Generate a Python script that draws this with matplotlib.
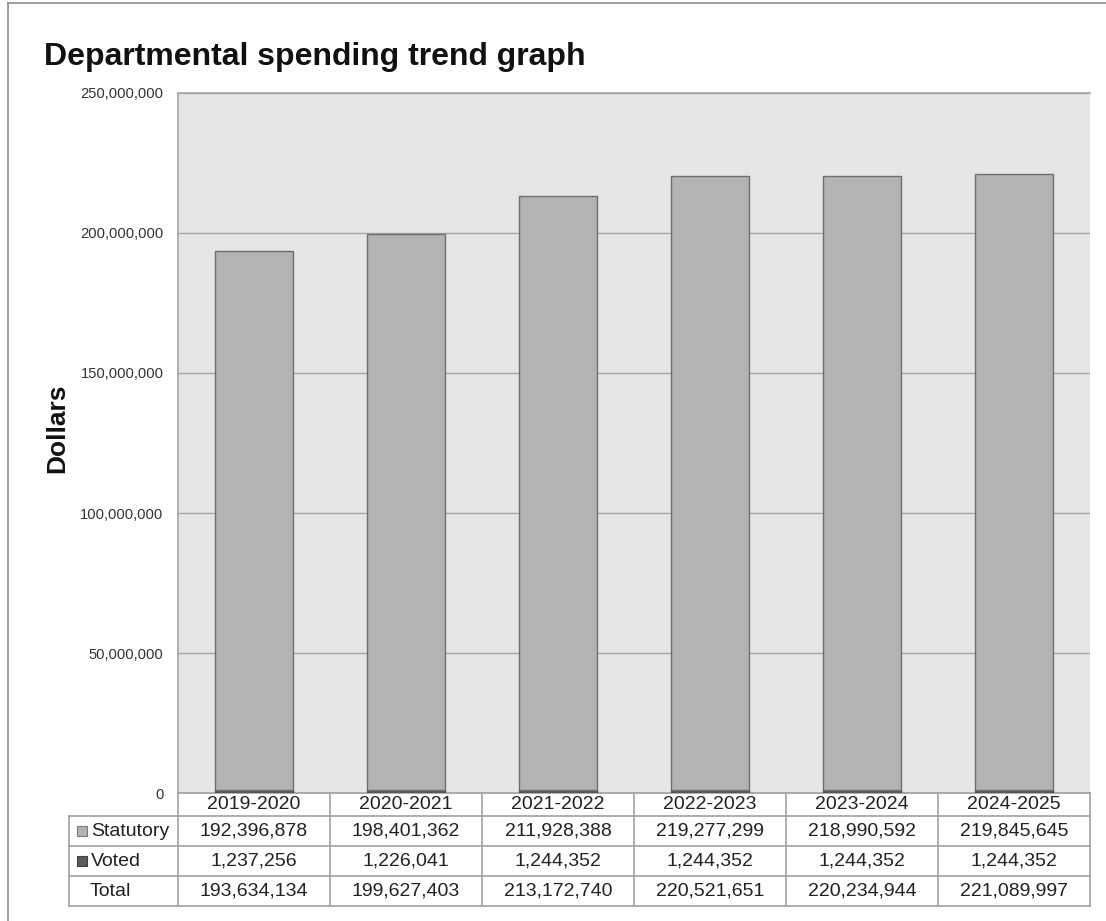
import matplotlib
matplotlib.use('Agg')
import matplotlib.pyplot as plt
import numpy as np
from matplotlib.patches import Rectangle
from matplotlib.lines import Line2D

plt.rcParams['font.family'] = ['Liberation Sans', 'DejaVu Sans']

# 数据
years = ['2019-2020', '2020-2021', '2021-2022', '2022-2023', '2023-2024', '2024-2025']
statutory = [192396878, 198401362, 211928388, 219277299, 218990592, 219845645]
voted = [1237256, 1226041, 1244352, 1244352, 1244352, 1244352]
total = [193634134, 199627403, 213172740, 220521651, 220234944, 221089997]
y_ticks = [0, 50000000, 100000000, 150000000, 200000000, 250000000]

W, H = 1106, 921
fig = plt.figure(figsize=(W / 100, H / 100), dpi=100)

# 外框
fig.add_artist(Line2D([8 / W, 1], [1 - 3 / H, 1 - 3 / H], color='#8c8c8c', lw=1.2))
fig.add_artist(Line2D([8 / W, 8 / W], [0, 1 - 3 / H], color='#8c8c8c', lw=1.2))

# 绘图区 (像素: 左178 上93 右1090 下793)
ax = fig.add_axes([178 / W, 1 - 793 / H, (1090 - 178) / W, (793 - 93) / H])
ax.set_facecolor('#e6e6e6')

x = np.arange(len(years))
bw = 0.51
ax.bar(x, voted, bw, color='#5a5a5a', edgecolor='#505050', lw=1.0, zorder=3)
ax.bar(x, statutory, bw, bottom=voted, color='#b3b3b3', edgecolor='#6e6e6e', lw=1.0, zorder=3)

ax.set_xlim(-0.5, len(years) - 0.5)
ax.set_ylim(0, 250000000)
ax.set_yticks(y_ticks)
ax.set_yticklabels([f'{v:,}' for v in y_ticks], fontsize=10.6, color='#333333')
ax.tick_params(axis='y', length=0, pad=10.5)
ax.set_xticks([])
ax.yaxis.grid(True, color='#a6a6a6', lw=1.0, zorder=1)
ax.set_axisbelow(True)
for s in ['right', 'bottom']:
    ax.spines[s].set_visible(False)
for s in ['left', 'top']:
    ax.spines[s].set_color('#a6a6a6')
    ax.spines[s].set_linewidth(1.2)

# 标题和y轴标签
fig.text(44 / W, 1 - 57 / H, 'Departmental spending trend graph', fontsize=23, fontweight='bold',
         ha='left', va='center', color='#111111')
fig.text(57 / W, 1 - 428 / H, 'Dollars', fontsize=19, fontweight='bold', rotation=90,
         ha='center', va='center', color='#111111')

# 数据表格 (在轴坐标下绘制, x 使用数据坐标)
trans = ax.get_xaxis_transform()
ppx = 1 / 700  # 每像素对应的轴坐标高度
rows_y = [793, 816, 846, 876, 906]
yy = [(793 - r) * ppx for r in rows_y]
x_left = -0.5 - 109 / 152
lc = '#a0a0a0'

ax.plot([-0.5, 5.5], [yy[0], yy[0]], transform=trans, color=lc, lw=1.2, clip_on=False)
for k in range(1, 5):
    ax.plot([x_left, 5.5], [yy[k], yy[k]], transform=trans, color=lc, lw=1.2, clip_on=False)
for k in range(len(years) + 1):
    ax.plot([k - 0.5, k - 0.5], [yy[0], yy[4]], transform=trans, color=lc, lw=1.2, clip_on=False)
ax.plot([x_left, x_left], [yy[1], yy[4]], transform=trans, color=lc, lw=1.2, clip_on=False)

row_c = [(a + b) / 2 for a, b in zip(yy[:-1], yy[1:])]
tcol = '#222222'
for i, yr in enumerate(years):
    ax.text(i, row_c[0], yr, transform=trans, ha='center', va='center', fontsize=14, color=tcol)
    ax.text(i, row_c[1], f'{statutory[i]:,}', transform=trans, ha='center', va='center', fontsize=14, color=tcol)
    ax.text(i, row_c[2], f'{voted[i]:,}', transform=trans, ha='center', va='center', fontsize=14, color=tcol)
    ax.text(i, row_c[3], f'{total[i]:,}', transform=trans, ha='center', va='center', fontsize=14, color=tcol)

# 行标签和图例方块
sq = 10
lab_x = x_left + 22 / 152
for r, (name, fc, ec) in enumerate([('Statutory', '#b3b3b3', '#7a7a7a'), ('Voted', '#5a5a5a', '#404040')]):
    cy = row_c[r + 1]
    ax.add_patch(Rectangle((x_left + 8 / 152, cy - sq / 2 * ppx), sq / 152, sq * ppx, transform=trans,
                           facecolor=fc, edgecolor=ec, lw=0.8, clip_on=False))
    ax.text(lab_x, cy, name, transform=trans, ha='left', va='center', fontsize=14, color=tcol)
ax.text(x_left + 21 / 152, row_c[3], 'Total', transform=trans, ha='left', va='center', fontsize=14, color=tcol)

fig.savefig('out.png', dpi=100)
